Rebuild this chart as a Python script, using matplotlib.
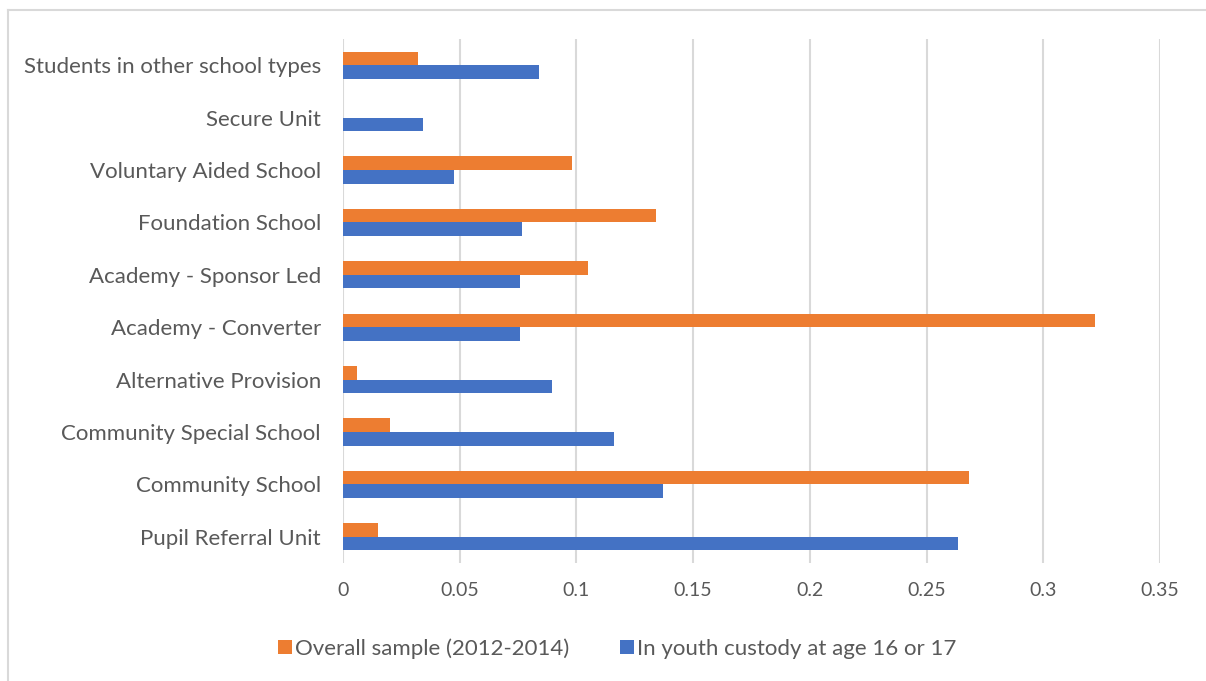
import numpy as np
import matplotlib.pyplot as plt
from matplotlib.lines import Line2D
from matplotlib.patches import Patch

# ── DATA ──────────────────────────────────────────────────────
school_types = [
    'Pupil Referral Unit',
    'Community School',
    'Community Special School',
    'Alternative Provision',
    'Academy - Converter',
    'Academy - Sponsor Led',
    'Foundation School',
    'Voluntary Aided School',
    'Secure Unit',
    'Students in other school types',
]
overall_sample = [0.015, 0.268, 0.020, 0.006, 0.322, 0.105, 0.134, 0.098, 0.0, 0.032]
youth_custody  = [0.2635, 0.137, 0.116, 0.0895, 0.0758, 0.0758, 0.0767, 0.0476, 0.0343, 0.084]
xticks = [0, 0.05, 0.1, 0.15, 0.2, 0.25, 0.3, 0.35]
xtick_labels = ['0', '0.05', '0.1', '0.15', '0.2', '0.25', '0.3', '0.35']

ORANGE = '#ED7D31'
BLUE   = '#4472C4'
GRID   = '#D9D9D9'
TEXT   = '#595959'

plt.rcParams['font.family'] = ['Lato', 'DejaVu Sans']

# ── PLOT ──────────────────────────────────────────────────────
fig = plt.figure(figsize=(12.06, 6.81), dpi=100)
ax = fig.add_axes([0.2844, 0.1733, 0.9619 - 0.2844, 0.9427 - 0.1733])

y = np.arange(len(school_types))
h = 0.26
ax.barh(y + h / 2, overall_sample, height=h, color=ORANGE, zorder=3)
ax.barh(y - h / 2, youth_custody, height=h, color=BLUE, zorder=3)

ax.set_xlim(0, 0.35)
ax.set_ylim(-0.5, len(school_types) - 0.5)
ax.set_xticks(xticks)
ax.set_xticklabels(xtick_labels)
ax.set_yticks(y)
ax.set_yticklabels(school_types)
ax.tick_params(axis='both', length=0, labelcolor=TEXT)
ax.tick_params(axis='x', pad=14, labelsize=14)
ax.tick_params(axis='y', pad=16, labelsize=16)
ax.grid(axis='x', color=GRID, linewidth=1.5, zorder=0)
for s in ax.spines.values():
    s.set_visible(False)

handles = [Patch(facecolor=ORANGE), Patch(facecolor=BLUE)]
fig.legend(handles, ['Overall sample (2012-2014)', 'In youth custody at age 16 or 17'],
           loc='center', bbox_to_anchor=(0.512, 0.048), ncol=2, frameon=False,
           fontsize=16, labelcolor=TEXT, handlelength=0.6, handleheight=0.6,
           handletextpad=0.15, columnspacing=2.3)

# outer chart border (left and top edges)
fig.add_artist(Line2D([8 / 1206, 8 / 1206], [0, 1 - 10 / 681], color=GRID, lw=1.5))
fig.add_artist(Line2D([8 / 1206, 1], [1 - 10 / 681, 1 - 10 / 681], color=GRID, lw=1.5))

fig.savefig('out.png', dpi=100)
